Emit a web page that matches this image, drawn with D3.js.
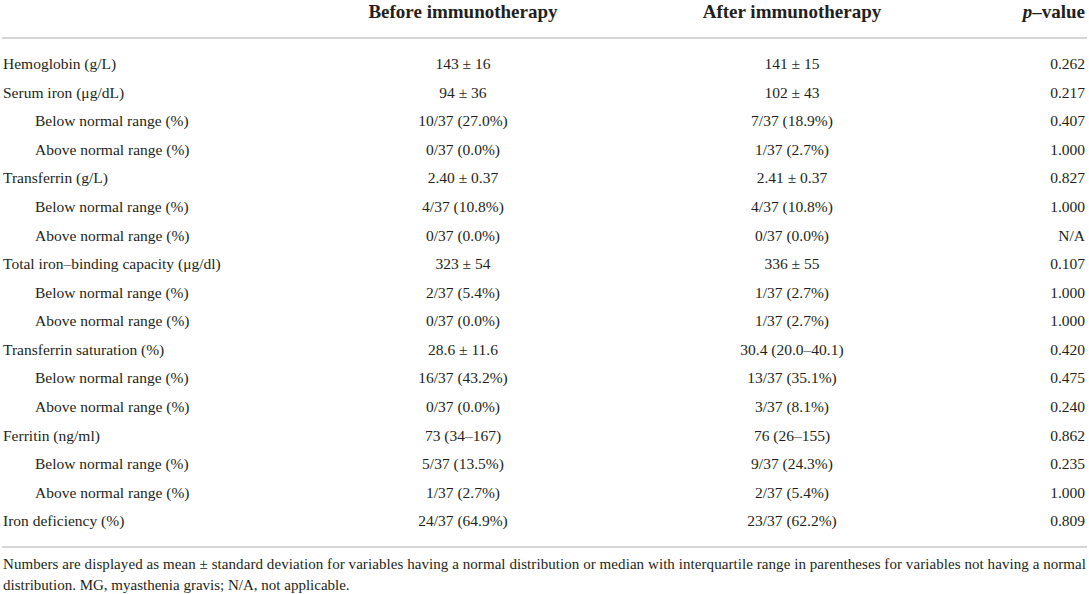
<!DOCTYPE html>
<html>
<head>
<meta charset="utf-8">
<script src="https://cdn.jsdelivr.net/npm/d3@7"></script>
<style>
  html, body { margin: 0; padding: 0; background: #fff; }
  svg { display: block; }
  text { font-family: "Liberation Serif", "Times New Roman", serif; fill: #231f20; }
</style>
</head>
<body>
<svg id="chart" width="1089" height="594"></svg>
<script>
const headers = ["", "Before immunotherapy", "After immunotherapy", "p–value"];

const labels = [
  "Hemoglobin (g/L)",
  "Serum iron (\u03bcg/dL)",
  "Below normal range (%)",
  "Above normal range (%)",
  "Transferrin (g/L)",
  "Below normal range (%)",
  "Above normal range (%)",
  "Total iron–binding capacity (\u03bcg/dl)",
  "Below normal range (%)",
  "Above normal range (%)",
  "Transferrin saturation (%)",
  "Below normal range (%)",
  "Above normal range (%)",
  "Ferritin (ng/ml)",
  "Below normal range (%)",
  "Above normal range (%)",
  "Iron deficiency (%)"
];

const beforeValues = [
  "143 \u00b1 16",
  "94 \u00b1 36",
  "10/37 (27.0%)",
  "0/37 (0.0%)",
  "2.40 \u00b1 0.37",
  "4/37 (10.8%)",
  "0/37 (0.0%)",
  "323 \u00b1 54",
  "2/37 (5.4%)",
  "0/37 (0.0%)",
  "28.6 \u00b1 11.6",
  "16/37 (43.2%)",
  "0/37 (0.0%)",
  "73 (34–167)",
  "5/37 (13.5%)",
  "1/37 (2.7%)",
  "24/37 (64.9%)"
];

const afterValues = [
  "141 \u00b1 15",
  "102 \u00b1 43",
  "7/37 (18.9%)",
  "1/37 (2.7%)",
  "2.41 \u00b1 0.37",
  "4/37 (10.8%)",
  "0/37 (0.0%)",
  "336 \u00b1 55",
  "1/37 (2.7%)",
  "1/37 (2.7%)",
  "30.4 (20.0–40.1)",
  "13/37 (35.1%)",
  "3/37 (8.1%)",
  "76 (26–155)",
  "9/37 (24.3%)",
  "2/37 (5.4%)",
  "23/37 (62.2%)"
];

const pValues = [
  "0.262", "0.217", "0.407", "1.000", "0.827", "1.000", "N/A",
  "0.107", "1.000", "1.000", "0.420", "0.475", "0.240",
  "0.862", "0.235", "1.000", "0.809"
];

const footnote = [
  "Numbers are displayed as mean \u00b1 standard deviation for variables having a normal distribution or median with interquartile range in parentheses for variables not having a normal",
  "distribution. MG, myasthenia gravis; N/A, not applicable."
];

// ---- layout ----
const W = 1089, H = 594;
const svg = d3.select("#chart");
const bodySize = 15.5, headSize = 19;
const lineColor = "#c8c8c8";

const y = d3.scaleLinear().domain([0, labels.length - 1]).range([63.5, 521]);
const colX = d3.scaleOrdinal().domain([0, 1, 2, 3]).range([3, 463, 792, 1085]);
const anchors = ["start", "middle", "middle", "end"];

// header
const head = svg.append("g").attr("class", "header");
headers.forEach((h, i) => {
  if (!h) return;
  const t = head.append("text")
    .attr("x", colX(i)).attr("y", 18)
    .attr("text-anchor", anchors[i])
    .attr("font-size", headSize)
    .attr("font-weight", "bold");
  if (i === 3) {
    t.append("tspan").attr("font-style", "italic").text("p");
    t.append("tspan").text(h.slice(1));
  } else {
    t.text(h);
  }
});

// rules
svg.append("line").attr("x1", 2).attr("x2", 1087).attr("y1", 38).attr("y2", 38)
  .attr("stroke", lineColor).attr("stroke-width", 1.5);
svg.append("line").attr("x1", 2).attr("x2", 1087).attr("y1", 547).attr("y2", 547)
  .attr("stroke", lineColor).attr("stroke-width", 1.5);

// body rows
const rows = svg.append("g").selectAll("g.row")
  .data(labels.map((l, i) => ({ label: l, b: beforeValues[i], a: afterValues[i], p: pValues[i], i })))
  .join("g").attr("class", "row")
  .attr("transform", d => `translate(0,${y(d.i)})`);

const isSub = l => /^(Below|Above) normal/.test(l);

rows.append("text")
  .attr("x", d => colX(0) + (isSub(d.label) ? 32 : 0))
  .attr("dy", "0.35em").attr("font-size", bodySize)
  .text(d => d.label);
rows.append("text")
  .attr("x", colX(1)).attr("text-anchor", "middle")
  .attr("dy", "0.35em").attr("font-size", bodySize)
  .text(d => d.b);
rows.append("text")
  .attr("x", colX(2)).attr("text-anchor", "middle")
  .attr("dy", "0.35em").attr("font-size", bodySize)
  .text(d => d.a);
rows.append("text")
  .attr("x", colX(3)).attr("text-anchor", "end")
  .attr("dy", "0.35em").attr("font-size", bodySize)
  .text(d => d.p);

// footnote
svg.append("text").attr("x", 3).attr("y", 569).attr("font-size", 15)
  .attr("textLength", 1083).attr("lengthAdjust", "spacing")
  .text(footnote[0]);
svg.append("text").attr("x", 3).attr("y", 590).attr("font-size", 15)
  .text(footnote[1]);
</script>
</body>
</html>
